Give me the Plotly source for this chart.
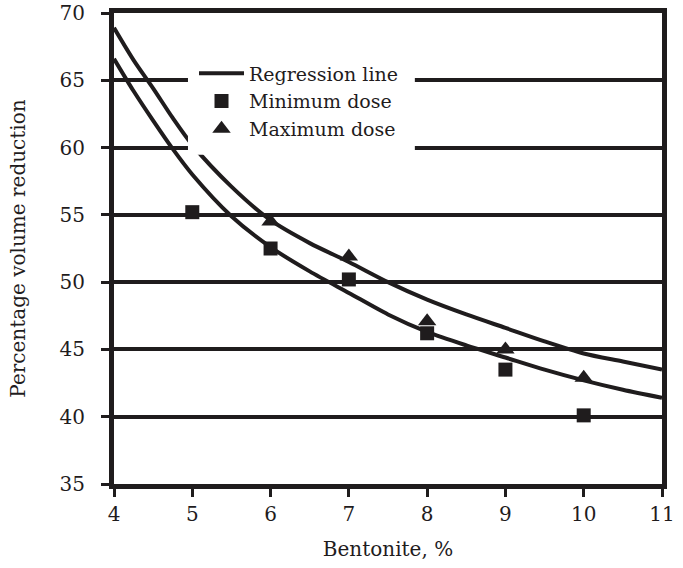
import plotly.graph_objects as go

# Regression curves
curve_x = [4, 4.25, 4.5, 4.75, 5, 5.5, 6, 6.5, 7, 7.5, 8, 8.5, 9, 9.5, 10, 10.5, 11]
upper_y = [68.9, 66.5, 64.4, 62.2, 60.2, 57.1, 54.6, 52.9, 51.5, 50.0, 48.7, 47.6, 46.6, 45.6, 44.7, 44.1, 43.5]
lower_y = [66.6, 64.2, 62.0, 59.9, 58.0, 54.9, 52.6, 50.8, 49.2, 47.6, 46.3, 45.3, 44.4, 43.5, 42.7, 42.0, 41.4]

# Data points
min_x = [5, 6, 7, 8, 9, 10]
min_y = [55.2, 52.5, 50.2, 46.2, 43.5, 40.1]
max_x = [6, 7, 8, 9, 10]
max_y = [54.5, 51.9, 47.1, 45.0, 42.9]

x_ticks = [4, 5, 6, 7, 8, 9, 10, 11]
y_ticks = [35, 40, 45, 50, 55, 60, 65, 70]

FONT = "DejaVu Serif"
INK = "#1f1c1d"
fig = go.Figure()
fig.add_trace(go.Scatter(x=curve_x, y=upper_y, mode="lines", name="Regression line",
                         line=dict(color=INK, width=4, shape="spline", smoothing=0.8),
                         showlegend=True))
fig.add_trace(go.Scatter(x=curve_x, y=lower_y, mode="lines", name="Regression line",
                         line=dict(color=INK, width=4, shape="spline", smoothing=0.8),
                         showlegend=False))
fig.add_trace(go.Scatter(x=min_x, y=min_y, mode="markers", name="Minimum dose",
                         marker=dict(symbol="square", size=14, color=INK)))
fig.add_trace(go.Scatter(x=max_x, y=max_y, mode="markers", name="Maximum dose",
                         marker=dict(symbol="triangle-up", size=16, color=INK)))

# white backing box behind the legend (covers gridlines and curves, as in the original)
fig.add_shape(type="rect", xref="paper", yref="paper",
              x0=0.135, x1=0.549, y0=0.699, y1=0.896,
              fillcolor="white", line=dict(width=0), layer="above")

fig.update_layout(
    width=683, height=568,
    margin=dict(l=114, r=21, t=13, b=84, autoexpand=False),
    paper_bgcolor="white", plot_bgcolor="white",
    font=dict(family=FONT, size=20, color=INK),
    legend=dict(x=0.146, y=0.912, xanchor="left", yanchor="top",
                bgcolor="rgba(0,0,0,0)", borderwidth=0, font=dict(size=19),
                itemwidth=45, tracegroupgap=0),
    xaxis=dict(range=[4, 11], tickvals=x_ticks, showgrid=False, zeroline=False,
               automargin=False,
               showline=True, linecolor=INK, linewidth=5, mirror=True,
               ticks="outside", ticklen=8, tickwidth=3, tickcolor=INK,
               title=dict(text="Bentonite, %", standoff=18, font=dict(size=20))),
    yaxis=dict(range=[35, 70], tickvals=y_ticks, showgrid=True, gridcolor=INK,
               gridwidth=4, zeroline=False, automargin=False,
               showline=True, linecolor=INK, linewidth=5, mirror=True,
               ticks="outside", ticklen=8, tickwidth=3, tickcolor=INK,
               ticklabelstandoff=12,
               title=dict(text="Percentage volume reduction", standoff=30, font=dict(size=20))),
)

fig.write_html("out.html")
